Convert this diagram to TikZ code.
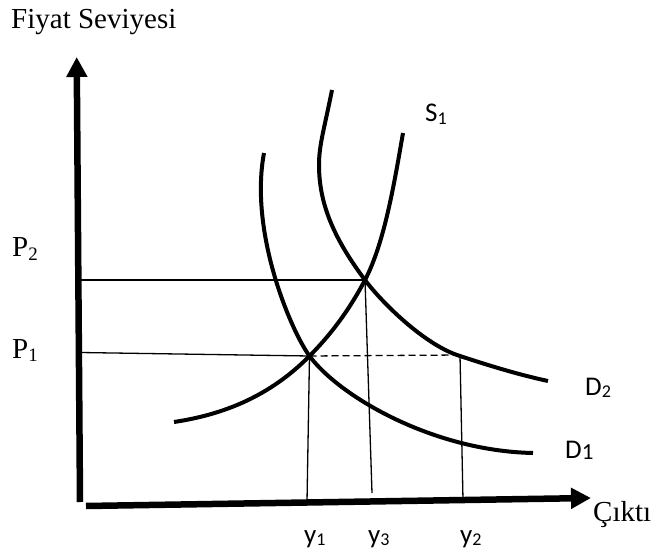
\documentclass[tikz,border=0pt]{standalone}
\usepackage{fontspec}
\setmainfont{Liberation Serif}
\newfontfamily\calfont{Carlito}
\usetikzlibrary{arrows.meta}
\newcommand\serifsub[1]{\raisebox{-3.5pt}{\fontsize{19}{19}\selectfont #1}}
\newcommand\sanssub[1]{\raisebox{-2.5pt}{\fontsize{18}{18}\selectfont #1}}
\begin{document}
\begin{tikzpicture}[x=1pt,y=-1pt,
  axis/.style={line width=6.5pt,-{Triangle[length=20pt,width=20pt]}},
  curve/.style={line width=4pt,line cap=butt},
  guide/.style={line width=1.3pt},
  dashguide/.style={line width=1.3pt,dash pattern=on 7pt off 4pt},
  serif/.style={font=\fontsize{29}{29}\selectfont,inner sep=0pt,anchor=base west},
  sans/.style={font=\calfont\fontsize{27}{27}\selectfont,inner sep=0pt,anchor=base west}]
\useasboundingbox (0,0) rectangle (659,556);
% axis coordinates
\coordinate (O1) at (80,502);
\coordinate (Ytop) at (76.7,57);
\coordinate (O2) at (86,506);
\coordinate (Xtip) at (591,498);
% key points
\coordinate (E1) at (309.5,356);
\coordinate (E2) at (365,280);
\coordinate (F) at (460,355);
\coordinate (P2a) at (80,280);
\coordinate (P1a) at (80,352.5);
\coordinate (Y1b) at (307,502);
\coordinate (Y3b) at (372,493);
\coordinate (Y2b) at (463,500);
% axes
\draw[axis] (O1) -- (Ytop);
\draw[axis] (O2) -- (Xtip);
% guide lines
\draw[guide] (P2a) -- (E2);
\draw[guide] (P1a) -- (E1);
\draw[dashguide] (E1) -- (F);
\draw[guide] (E1) -- (Y1b);
\draw[guide] (E2) -- (Y3b);
\draw[guide] (F) -- (Y2b);
% S1
\draw[curve] (174,422) .. controls (224,414.5) and (270,396) .. (E1)
  .. controls (327.5,338) and (347,314.2) .. (E2)
  .. controls (385,242) and (395,178.6) .. (403,133);
% D1
\draw[curve] (264,153) .. controls (249,233) and (291.5,331.7) .. (E1)
  .. controls (339.5,396.5) and (433,451) .. (533,453);
% D2
\draw[curve] (332,90) .. controls (324,130) and (319,145) .. (319,165)
  .. controls (319,205) and (335,240) .. (E2)
  .. controls (383,304) and (424,343.5) .. (457,355)
  .. controls (490,366) and (520,375) .. (548,381);
% labels
\node[serif] (ylab) at (11,28.3) {Fiyat Seviyesi};
\node[serif] (p2) at (12,257) {P\serifsub{2}};
\node[serif] (p1) at (12,358) {P\serifsub{1}};
\node[serif] (xlab) at (593,521.7) {Çıktı};
\node[sans] (s1) at (425,121.7) {S\sanssub{1}};
\node[sans] (d2) at (585,395) {D\sanssub{2}};
\node[sans] (d1) at (565,458.3) {D\raisebox{-1pt}{\fontsize{23}{23}\selectfont 1}};
\node[sans] (y1) at (304,543) {y\sanssub{1}};
\node[sans] (y3) at (368,543) {y\sanssub{3}};
\node[sans] (y2) at (460,543) {y\sanssub{2}};
\end{tikzpicture}
\end{document}
